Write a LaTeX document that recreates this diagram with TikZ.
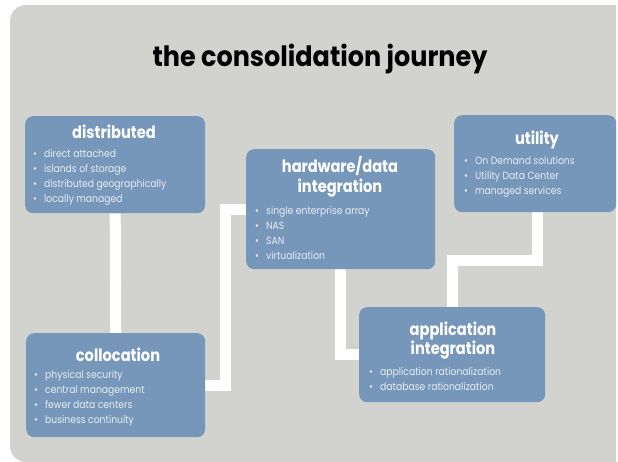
\documentclass[tikz,border=0pt]{standalone}
\usepackage{fontspec}
\setmainfont{Poppins}[FakeStretch=0.88]
\newfontfamily\bigfont{Poppins}[FakeStretch=0.91]
\newfontfamily\stagefont{Poppins}[FakeStretch=0.86]
\usetikzlibrary{backgrounds}
\definecolor{bggray}{RGB}{210,210,206}
\definecolor{boxblue}{RGB}{118,151,186}
\definecolor{itemtxt}{RGB}{232,237,243}
\newcommand\stagelist[4]{% name, x, first baseline y, items
  \foreach \t [count=\i] in {#4} {%
    \node[item] (#1-\i) at (#2, #3+15*\i-15) {\makebox[11pt][l]{\textbullet}\t};}}
\begin{document}
\begin{tikzpicture}[x=1pt,y=-1pt,
  stage/.style={fill=boxblue, rounded corners=8pt, draw=none, inner sep=0pt, anchor=north west},
  ttl/.style={text=white, font=\stagefont\bfseries\fontsize{17}{19}\selectfont, anchor=base, inner sep=0pt},
  item/.style={text=itemtxt, font=\fontsize{10.5}{15}\selectfont, anchor=base west, inner sep=0pt},
  conn/.style={white, line width=11pt, line join=miter}]
\useasboundingbox (0,0) rectangle (618,462);

% boxes
\node[stage, minimum width=180, minimum height=97] (distributed) at (25,116) {};
\node[stage, minimum width=179, minimum height=104] (collocation) at (26,333) {};
\node[stage, minimum width=189, minimum height=120] (hardware) at (246,149) {};
\node[stage, minimum width=186, minimum height=95] (application) at (359,307) {};
\node[stage, minimum width=162, minimum height=97] (utility) at (454,115) {};

% title
\node[font=\bigfont\bfseries\fontsize{28}{30}\selectfont, anchor=base, inner sep=0pt] (title) at (320,67) {the consolidation journey};

% stage titles
\node[ttl] (distributed-t) at (114,139) {distributed};
\node[ttl] (collocation-t) at (118,361) {collocation};
\node[ttl] (hardware-t1) at (340,173) {hardware/data};
\node[ttl] (hardware-t2) at (340,193) {integration};
\node[ttl] (application-t1) at (453,335) {application};
\node[ttl] (application-t2) at (453,354) {integration};
\node[ttl] (utility-t) at (537,145) {utility};

% stage items
\stagelist{distributed-i}{33}{158}{direct attached,islands of storage,distributed geographically,locally managed}
\stagelist{collocation-i}{34}{378}{physical security,central management,fewer data centers,business continuity}
\stagelist{hardware-i}{255}{215}{single enterprise array,NAS,SAN,virtualization}
\stagelist{application-i}{369}{375}{application rationalization,database rationalization}
\stagelist{utility-i}{464}{165}{On Demand solutions,Utility Data Center,managed services}

\begin{pgfonlayer}{background}
\fill[bggray] (616,5) [rounded corners=16pt] -- (10,5) -- (10,462) [sharp corners] -- (616,462) -- cycle;
\draw[conn] (distributed.south) -- (collocation.north);
\draw[conn] (collocation.east) -- ++(20.5,0) |- (hardware.west);
\draw[conn] (hardware.south) |- (application.west);
\draw[conn] (application.north) -- ++(0,-46.5) -| ([xshift=2pt]utility.south);
\end{pgfonlayer}
\end{tikzpicture}
\end{document}
